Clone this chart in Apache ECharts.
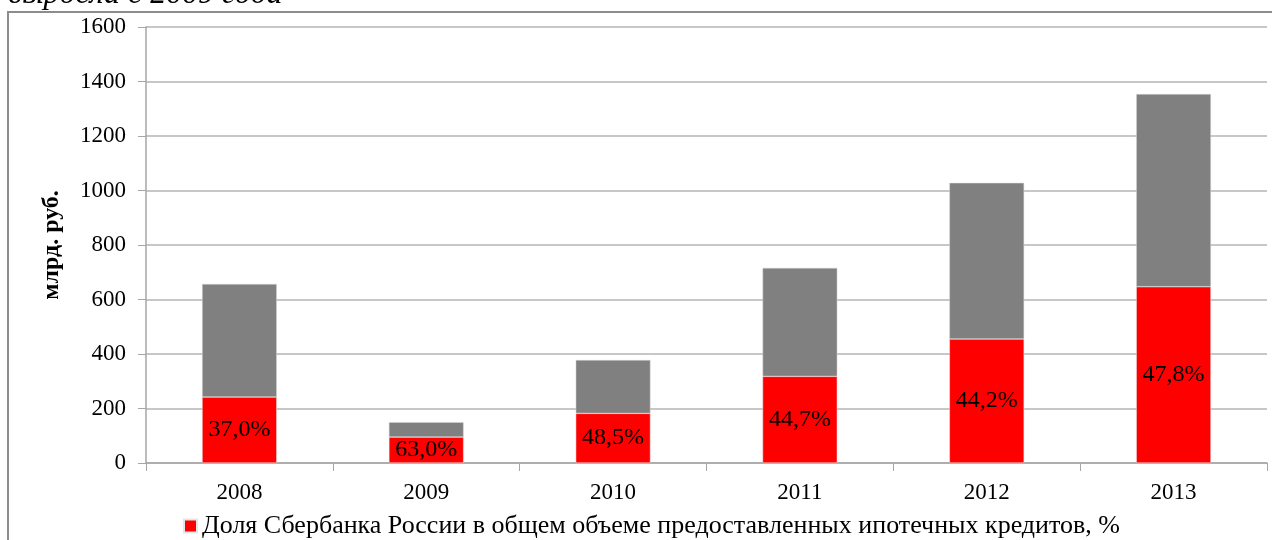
<!DOCTYPE html>
<html>
<head>
<meta charset="utf-8">
<script src="https://cdn.jsdelivr.net/npm/echarts@6/dist/echarts.min.js"></script>
<style>
  html, body { margin: 0; padding: 0; background: #fff; }
  #container { width: 1272px; height: 540px; }
</style>
</head>
<body>
<div id="container"></div>
<script>
var dom = document.getElementById('container');
var myChart = echarts.init(dom, null, { renderer: 'canvas' });

// years on the x axis
var years = ['2008', '2009', '2010', '2011', '2012', '2013'];
// Sberbank part, bn rub (red)
var sberValues = [242, 95, 182, 318, 455, 647];
// rest of the market, bn rub (gray)
var otherValues = [415, 55, 196, 398, 573, 707];
// Sberbank share labels
var shareLabels = ['37,0%', '63,0%', '48,5%', '44,7%', '44,2%', '47,8%'];

var serif = '"Liberation Serif", "DejaVu Serif", serif';

var option = {
    backgroundColor: '#fff',
    animation: false,
    textStyle: { fontFamily: serif },
    graphic: [
        {
            type: 'text',
            left: 8,
            top: -21,
            style: {
                text: 'выросла с 2009 года',
                font: 'italic 32px ' + serif,
                fill: '#000'
            }
        },
        {
            type: 'rect',
            shape: { x: 8, y: 12, width: 1300, height: 560 },
            style: { fill: 'none', stroke: '#8c8c8c', lineWidth: 2 }
        }
    ],
    grid: { left: 146, right: 5, top: 27, bottom: 77 },
    legend: {
        data: ['Доля Сбербанка России в общем объеме предоставленных ипотечных кредитов, %'],
        left: 178,
        top: 508,
        icon: 'rect',
        itemWidth: 13,
        itemHeight: 13,
        itemGap: 6,
        textStyle: { fontFamily: serif, fontSize: 26, color: '#000' }
    },
    xAxis: {
        type: 'category',
        data: years,
        axisLine: { lineStyle: { color: '#a6a6a6', width: 1.5 } },
        axisTick: { show: true, length: 8, lineStyle: { color: '#a6a6a6' } },
        axisLabel: { fontFamily: serif, fontSize: 23, color: '#000', margin: 18 }
    },
    yAxis: {
        type: 'value',
        min: 0,
        max: 1600,
        interval: 200,
        name: 'млрд. руб.',
        nameLocation: 'middle',
        nameGap: 82,
        nameTextStyle: { fontFamily: serif, fontSize: 24, fontWeight: 'bold', color: '#000' },
        axisLine: { show: true, lineStyle: { color: '#a6a6a6', width: 1.5 } },
        axisTick: { show: true, length: 8, lineStyle: { color: '#a6a6a6' } },
        axisLabel: {
            fontFamily: serif, fontSize: 23, color: '#000', margin: 20,
            formatter: function (v) { return String(v); }
        },
        splitLine: { lineStyle: { color: '#b4b4b4', width: 1.5 } }
    },
    series: [
        {
            name: 'Доля Сбербанка России в общем объеме предоставленных ипотечных кредитов, %',
            type: 'bar',
            stack: 'total',
            barWidth: '40%',
            data: sberValues,
            itemStyle: { color: '#ff0000', borderColor: '#e6e6e6', borderWidth: 0.5 },
            label: {
                show: true,
                position: 'inside',
                formatter: function (p) { return shareLabels[p.dataIndex]; },
                fontFamily: serif,
                fontSize: 24,
                color: '#000'
            }
        },
        {
            name: 'other',
            type: 'bar',
            stack: 'total',
            barWidth: '40%',
            data: otherValues,
            itemStyle: { color: '#808080', borderColor: '#d9d9d9', borderWidth: 0.5 }
        }
    ]
};

myChart.setOption(option);
window.addEventListener('resize', myChart.resize);
</script>
</body>
</html>
